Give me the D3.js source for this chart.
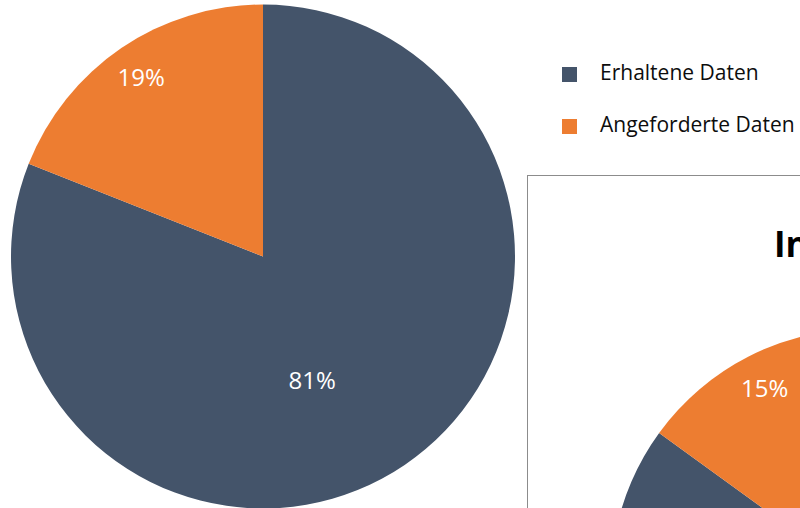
<!DOCTYPE html>
<html>
<head>
<meta charset="utf-8">
<script src="https://cdn.jsdelivr.net/npm/d3@7"></script>
<style>
  body { margin: 0; background: #fff; }
  svg { display: block; font-family: "Open Sans", sans-serif; }
</style>
</head>
<body>
<div id="chart"></div>
<script>
// data
var categories = ["Erhaltene Daten", "Angeforderte Daten"];
var valuesMain = [81, 19];
var valuesSecond = [85, 15];
var secondTitle = "Informationsanfragen";
var colors = ["#44546A", "#ED7D31"];

var width = 800,
    height = 508,
    radius = 252;

var svg = d3.select("#chart")
    .append("svg")
    .attr("width", width)
    .attr("height", height);

svg.append("rect")
    .attr("width", width)
    .attr("height", height)
    .attr("fill", "#fff");

var color = d3.scaleOrdinal().domain(categories).range(colors);

var pie = d3.pie().sort(null);
var arc = d3.arc().innerRadius(0).outerRadius(radius);
var labelArc = d3.arc().innerRadius(radius * 0.86).outerRadius(radius * 0.86);

/* draws one pie with its percent labels */
var drawPie = function(g, values) {
    var arcs = pie(values);

    g.selectAll("path")
        .data(arcs)
        .enter().append("path")
            .attr("d", arc)
            .attr("fill", function(d, i) { return color(categories[i]); });

    g.selectAll("text")
        .data(arcs)
        .enter().append("text")
            .attr("transform", function(d) {
                var p;
                if (d.endAngle - d.startAngle > Math.PI) {
                    // big slice: excel puts the label nearer the middle
                    var a = (d.startAngle + d.endAngle) / 2 + 0.22;
                    p = [Math.sin(a) * radius * 0.53, -Math.cos(a) * radius * 0.53];
                } else {
                    p = labelArc.centroid(d);
                }
                return "translate(" + p[0] + "," + p[1] + ")";
            })
            .attr("text-anchor", "middle")
            .attr("dy", "0.36em")
            .attr("fill", "#fff")
            .style("font-size", "24px")
            .text(function(d) { return d.data + "%"; });
};

/* main pie */
var main = svg.append("g").attr("transform", "translate(263,256.5)");
drawPie(main, valuesMain);

/* legend */
var legend = svg.append("g").attr("transform", "translate(562,67)");
var item = legend.selectAll("g")
    .data(categories)
    .enter().append("g")
        .attr("transform", function(d, i) { return "translate(0," + (i * 52) + ")"; });

item.append("rect")
    .attr("width", 15)
    .attr("height", 15)
    .attr("fill", function(d) { return color(d); });

item.append("text")
    .attr("x", 38)
    .attr("y", 13)
    .attr("fill", "#0d0d0d")
    .style("font-size", "21px")
    .text(function(d) { return d; });

/* second chart, cut off at the edge */
var second = svg.append("g");

second.append("rect")
    .attr("x", 527.5)
    .attr("y", 175.5)
    .attr("width", 700)
    .attr("height", 500)
    .attr("fill", "#fff")
    .attr("stroke", "#8c8c8c")
    .attr("stroke-width", 1);

second.append("text")
    .attr("x", 774)
    .attr("y", 257)
    .attr("fill", "#000")
    .style("font-size", "35px")
    .style("font-weight", "bold")
    .text(secondTitle);

var secondPie = second.append("g").attr("transform", "translate(863,581)");
drawPie(secondPie, valuesSecond);
</script>
</body>
</html>
